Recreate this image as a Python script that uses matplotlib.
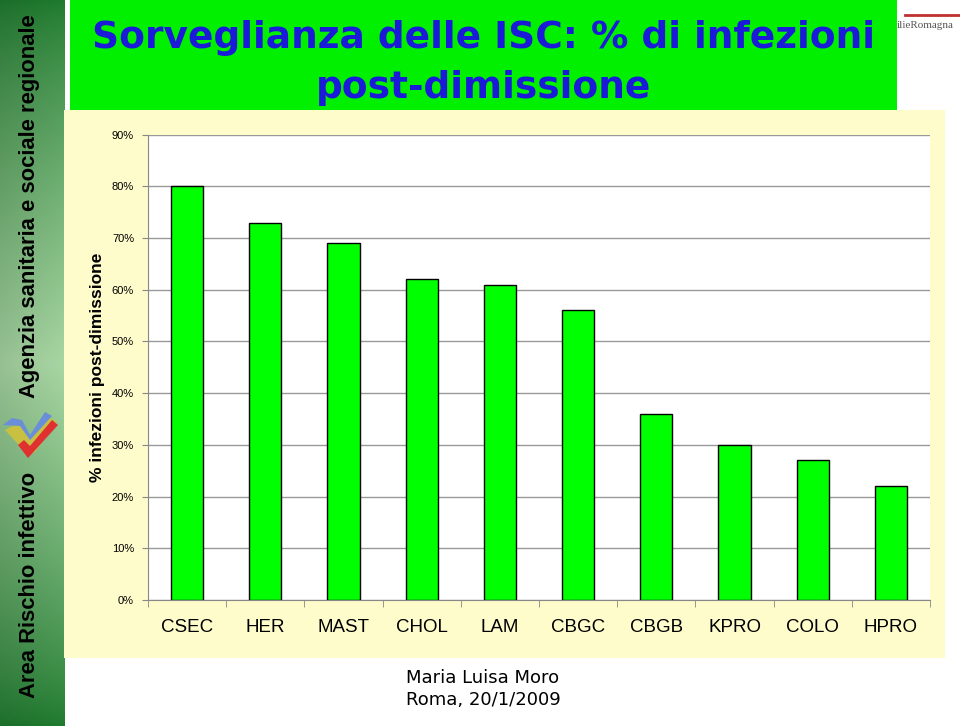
import numpy as np
import matplotlib
matplotlib.use("Agg")
import matplotlib.pyplot as plt
from matplotlib.patches import Rectangle, Polygon
from matplotlib.ticker import FixedLocator, PercentFormatter

categories = ["CSEC", "HER", "MAST", "CHOL", "LAM", "CBGC", "CBGB", "KPRO", "COLO", "HPRO"]
values = [80, 73, 69, 62, 61, 56, 36, 30, 27, 22]
yticks = [0, 10, 20, 30, 40, 50, 60, 70, 80, 90]

plt.rcParams["font.family"] = ["Liberation Sans", "DejaVu Sans"]

W, H = 960, 726
fig = plt.figure(figsize=(W / 100, H / 100), dpi=100)
fig.patch.set_facecolor("white")

# background decoration axes in pixel coordinates
bg = fig.add_axes([0, 0, 1, 1])
bg.set_xlim(0, W)
bg.set_ylim(H, 0)
bg.axis("off")

# left green gradient sidebar
yy = np.linspace(0, 1, 256)
dark = np.array([0.12, 0.48, 0.18])
light = np.array([0.66, 0.84, 0.64])
t = np.clip(1 - np.abs(yy - 0.5) / 0.5, 0, 1) ** 0.8
grad = dark[None, :] * (1 - t[:, None]) + light[None, :] * t[:, None]
xx = np.linspace(0, 1, 20)
img = grad[:, None, :] * (0.9 + 0.1 * xx[None, :, None])
bg.imshow(img, extent=[0, 65, H, 0], aspect="auto", zorder=1)
bg.text(30, 206, "Agenzia sanitaria e sociale regionale", rotation=90, ha="center", va="center",
        fontsize=15.8, fontweight="bold", color="black", zorder=3)
bg.text(30, 585, "Area Rischio infettivo", rotation=90, ha="center", va="center",
        fontsize=15.8, fontweight="bold", color="black", zorder=3)
# small logo
bg.add_patch(Polygon([[5, 430], [20, 422], [30, 440], [50, 418], [57, 422], [35, 452], [28, 455]],
                     closed=True, facecolor="#c8c040", edgecolor="none", zorder=3))
bg.add_patch(Polygon([[18, 445], [28, 458], [58, 425], [52, 420], [30, 446], [24, 440]],
                     closed=True, facecolor="#e03030", edgecolor="none", zorder=4))
bg.add_patch(Polygon([[3, 425], [12, 418], [22, 420], [30, 435], [45, 412], [52, 416], [30, 440], [20, 426]],
                     closed=True, facecolor="#6a8fd8", edgecolor="none", zorder=5))

# light yellow panel
bg.add_patch(Rectangle((64, 110), 881, 548, facecolor="#fefccb", edgecolor="none", zorder=1))
# green title box
bg.add_patch(Rectangle((70, 0), 827, 110, facecolor="#00f000", edgecolor="none", zorder=2))
bg.text(484, 38, "Sorveglianza delle ISC: % di infezioni", ha="center", va="center",
        fontsize=27, fontweight="bold", color="#1a1ad8", family="DejaVu Sans", zorder=3)
bg.text(484, 88, "post-dimissione", ha="center", va="center",
        fontsize=27, fontweight="bold", color="#1a1ad8", family="DejaVu Sans", zorder=3)
# top-right logo fragment
bg.plot([905, 960], [15, 15], color="#c03030", lw=2, zorder=3)
bg.text(897, 26, "ilieRomagna", ha="left", va="center", fontsize=8, family="Liberation Serif",
        color="#555555", zorder=3)

# footer
bg.text(483, 678, "Maria Luisa Moro", ha="center", va="center", fontsize=13, color="black",
        family="DejaVu Sans", zorder=3)
bg.text(483, 700, "Roma, 20/1/2009", ha="center", va="center", fontsize=13, color="black",
        family="DejaVu Sans", zorder=3)

# chart axes
left, right = 148 / W, 930 / W
bottom, top = 1 - 600 / H, 1 - 134.7 / H
ax = fig.add_axes([left, bottom, right - left, top - bottom])
ax.set_facecolor("white")
x = np.arange(len(categories))
ax.bar(x, values, width=0.41, color="#00ff00", edgecolor="black", linewidth=1, zorder=3)
ax.set_xlim(-0.5, len(categories) - 0.5)
ax.set_ylim(0, 90)
ax.set_yticks(yticks)
ax.yaxis.set_major_formatter(PercentFormatter(decimals=0))
ax.grid(axis="y", color="#999999", linewidth=1, zorder=0)
ax.set_xticks(x)
ax.set_xticklabels(categories, fontsize=13.5)
ax.xaxis.set_minor_locator(FixedLocator(np.arange(-0.5, len(categories), 1)))
ax.tick_params(axis="x", which="major", length=0, pad=14)
ax.tick_params(axis="x", which="minor", length=5, color="#888888", direction="out")
ax.tick_params(axis="y", labelsize=8, length=4, color="#888888", pad=6)
for s in ["top", "right"]:
    ax.spines[s].set_visible(False)
for s in ["left", "bottom"]:
    ax.spines[s].set_color("#888888")
ax.set_ylabel("% infezioni post-dimissione", fontsize=12.5, fontweight="bold", labelpad=5)

fig.savefig("out.png", dpi=100)
